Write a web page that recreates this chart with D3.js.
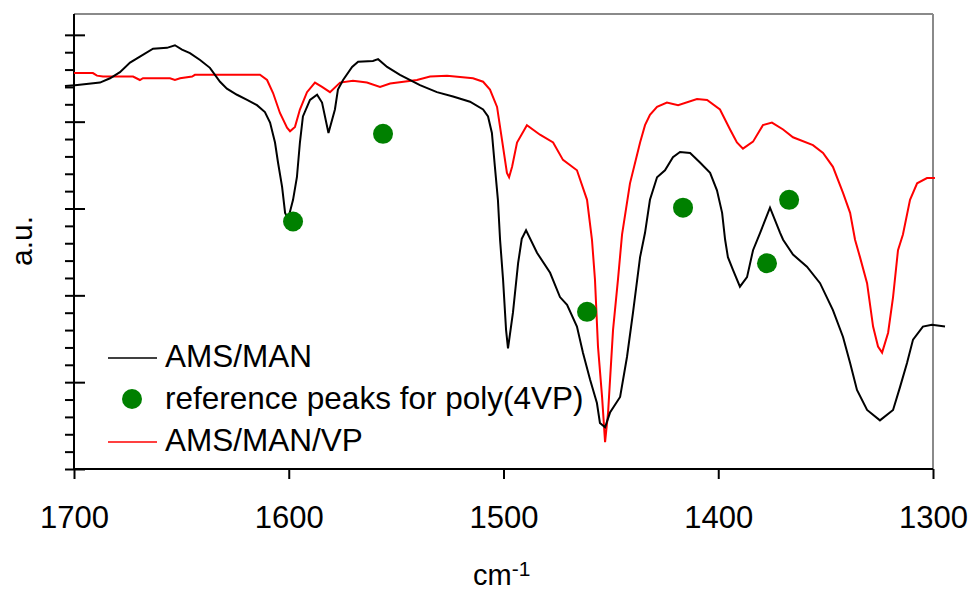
<!DOCTYPE html>
<html><head><meta charset="utf-8">
<script src="https://cdn.jsdelivr.net/npm/d3@7"></script>
<style>body{margin:0;background:#fff} text{font-family:"Liberation Sans",Arial,sans-serif;fill:#000}</style>
</head><body><svg id="c" width="973" height="590"></svg>
<script>
// AMS/MAN spectrum (wavenumber, a.u.)
const amsManWn = [1704.2,1699.5,1687.9,1683.2,1678.6,1673.9,1669.3,1663.2,1656.7,1653.0,1649.7,1646.0,1641.3,1636.7,1632.0,1628.8,1624.1,1619.4,1614.8,1611.1,1608.7,1606.4,1605.0,1603.1,1601.7,1600.3,1598.0,1596.2,1594.8,1593.4,1590.1,1586.8,1584.5,1581.5,1578.5,1577.1,1574.7,1570.5,1567.7,1560.8,1558.4,1554.2,1548.2,1538.9,1531.0,1523.5,1515.6,1509.5,1507.2,1505.4,1504.0,1502.6,1501.6,1500.2,1498.8,1497.9,1495.6,1493.2,1491.5,1489.5,1484.4,1478.3,1473.7,1470.4,1465.8,1463.0,1459.7,1456.5,1455.1,1452.7,1450.4,1445.7,1442.5,1439.7,1436.4,1434.1,1431.8,1428.5,1424.8,1421.1,1417.8,1413.1,1408.5,1403.8,1400.6,1398.2,1396.8,1395.5,1393.1,1389.9,1386.6,1383.8,1380.5,1375.9,1371.2,1369.8,1365.2,1358.7,1352.6,1346.6,1341.9,1338.6,1335.4,1330.7,1324.7,1318.6,1315.4,1312.1,1309.3,1304.7,1300.5,1294.4];
const amsManAu = [4.41,4.42,4.45,4.50,4.57,4.68,4.75,4.84,4.85,4.88,4.83,4.79,4.71,4.62,4.46,4.38,4.31,4.25,4.19,4.11,3.99,3.76,3.53,3.25,2.95,2.88,3.10,3.36,3.76,4.06,4.25,4.31,4.22,3.87,4.14,4.37,4.48,4.63,4.69,4.70,4.72,4.63,4.54,4.42,4.34,4.29,4.23,4.14,4.06,3.87,3.48,3.10,2.64,2.18,1.60,1.39,1.80,2.37,2.65,2.75,2.49,2.26,1.98,1.89,1.64,1.34,1.03,0.76,0.53,0.48,0.65,0.83,1.29,1.80,2.44,2.72,3.10,3.36,3.44,3.59,3.65,3.64,3.53,3.41,3.21,2.95,2.64,2.44,2.29,2.10,2.21,2.52,2.72,3.01,2.72,2.64,2.47,2.33,2.14,1.83,1.52,1.22,0.91,0.68,0.56,0.68,0.94,1.22,1.49,1.64,1.66,1.64];
// AMS/MAN/VP spectrum
const amsManVpWn = [1700.0,1691.2,1689.3,1686.5,1672.5,1669.3,1667.9,1655.3,1653.0,1650.6,1645.0,1643.7,1613.4,1610.1,1607.3,1604.1,1600.8,1599.4,1597.1,1594.8,1591.5,1587.8,1584.5,1580.8,1576.1,1570.1,1563.6,1557.5,1552.8,1540.3,1534.2,1526.3,1514.2,1509.5,1506.3,1503.0,1500.7,1498.4,1497.4,1496.0,1493.7,1489.1,1483.0,1476.9,1472.3,1465.8,1461.1,1458.8,1457.4,1456.0,1454.1,1452.7,1451.3,1449.0,1446.7,1444.8,1441.1,1436.4,1434.1,1431.8,1428.5,1423.9,1418.7,1409.9,1405.2,1399.2,1394.5,1391.3,1388.5,1383.8,1379.2,1375.0,1369.8,1365.2,1355.9,1351.2,1346.6,1341.9,1338.6,1336.3,1334.0,1330.7,1327.9,1325.6,1323.7,1320.9,1318.6,1316.3,1314.0,1310.7,1307.4,1302.8,1299.1];
const amsManVpAu = [4.56,4.56,4.53,4.52,4.52,4.48,4.50,4.50,4.48,4.50,4.52,4.54,4.54,4.48,4.33,4.10,3.93,3.89,3.94,4.14,4.34,4.45,4.40,4.34,4.45,4.47,4.45,4.40,4.44,4.48,4.52,4.53,4.50,4.46,4.37,4.17,3.79,3.41,3.36,3.48,3.76,3.96,3.85,3.76,3.56,3.44,3.10,2.64,2.18,1.41,0.83,0.31,0.65,1.60,2.18,2.70,3.29,3.76,3.96,4.08,4.17,4.22,4.19,4.26,4.25,4.14,3.91,3.76,3.69,3.77,3.96,3.99,3.91,3.82,3.73,3.64,3.48,3.18,2.95,2.64,2.44,2.14,1.64,1.41,1.34,1.57,1.98,2.52,2.70,3.10,3.29,3.35,3.35];
// reference peaks for poly(4VP)
const peakWn = [1598.0,1556.1,1461.1,1416.4,1377.3,1367.0];
const peakAu = [2.85,3.86,1.81,3.01,2.37,3.10];
const xTicks = [1700,1600,1500,1400,1300];
const legendLabels = ["AMS/MAN","reference peaks for poly(4VP)","AMS/MAN/VP"];

const svg = d3.select("#c");
const L=74,R=933,T=14,B=469;
const x = d3.scaleLinear().domain([1700,1300]).range([L,R]);
const y = d3.scaleLinear().domain([0,5.24]).range([B,T]);

// frame (top/right gray)
svg.append("line").attr("x1",L).attr("x2",R).attr("y1",T).attr("y2",T).attr("stroke","#8a8a8a").attr("stroke-width",2);
svg.append("line").attr("x1",R).attr("x2",R).attr("y1",T).attr("y2",B).attr("stroke","#8a8a8a").attr("stroke-width",2);

// left axis minor ticks
const minor = d3.range(0,26).map(i=>i*0.2).filter(v=>Math.abs(v-Math.round(v))>1e-6);
const gMinor = svg.append("g").attr("transform",`translate(${L},0)`)
  .call(d3.axisLeft(y).tickValues(minor).tickSize(9).tickFormat(""));
gMinor.select(".domain").remove();
gMinor.selectAll("line").attr("stroke-width",2);
const gMajor = svg.append("g").attr("transform",`translate(${L-9},0)`)
  .call(d3.axisRight(y).tickValues([0,1,2,3,4,5]).tickSize(20).tickFormat(""));
gMajor.select(".domain").remove();
gMajor.selectAll("line").attr("stroke-width",2);
svg.append("line").attr("x1",L).attr("x2",L).attr("y1",T).attr("y2",B).attr("stroke","#000").attr("stroke-width",2);

// bottom axis
const gx = svg.append("g").attr("transform",`translate(0,${B})`)
  .call(d3.axisBottom(x).tickValues(xTicks).tickSize(10).tickPadding(27).tickFormat(d3.format("d")));
gx.select(".domain").attr("stroke-width",2).attr("d",`M${L},0H${R}`);
gx.selectAll("line").attr("stroke-width",2);
gx.selectAll("text").style("font-size","31px").style("font-family","Liberation Sans, Arial, sans-serif").attr("fill","#000");

// curves
const line = d3.line().x(d=>x(d[0])).y(d=>y(d[1]));
svg.append("path").datum(amsManVpWn.map((w,i)=>[w,amsManVpAu[i]]))
  .attr("d",line).attr("fill","none").attr("stroke","#ff0000").attr("stroke-width",2);
svg.append("path").datum(amsManWn.map((w,i)=>[w,amsManAu[i]]))
  .attr("d",line).attr("fill","none").attr("stroke","#000").attr("stroke-width",2);

// peaks
svg.append("g").selectAll("circle").data(peakWn.map((w,i)=>[w,peakAu[i]])).join("circle")
  .attr("cx",d=>x(d[0])).attr("cy",d=>y(d[1])).attr("r",10).attr("fill","#008000");

// legend
const lg = svg.append("g");
lg.append("line").attr("x1",108).attr("x2",157).attr("y1",358).attr("y2",358).attr("stroke","#000").attr("stroke-width",1.5);
lg.append("circle").attr("cx",132).attr("cy",399).attr("r",10).attr("fill","#008000");
lg.append("line").attr("x1",108).attr("x2",157).attr("y1",442).attr("y2",442).attr("stroke","#ff0000").attr("stroke-width",1.5);
legendLabels.forEach((t,i)=>{
  lg.append("text").attr("x",165).attr("y",367+i*42).style("font-size","31.5px").text(t);
});

// axis titles
const xt = svg.append("text").attr("x",473).attr("y",585).style("font-size","29px");
xt.append("tspan").text("cm");
xt.append("tspan").attr("dy",-9).style("font-size","21px").text("-1");
svg.append("text").attr("transform","translate(32,241) rotate(-90)").attr("text-anchor","middle").style("font-size","30px").text("a.u.");
</script></body></html>
